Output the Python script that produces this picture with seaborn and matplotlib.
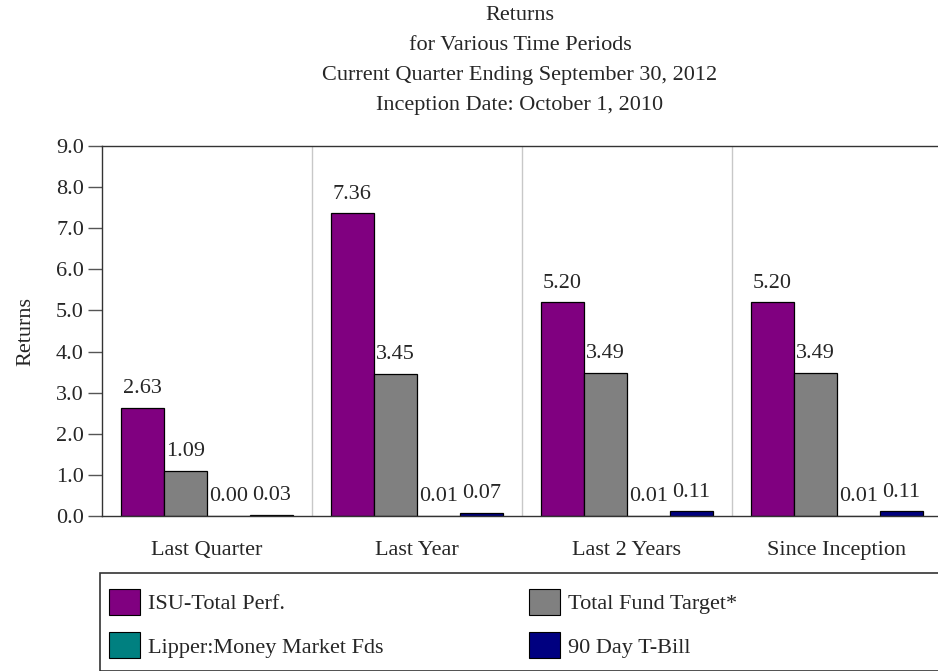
import matplotlib
matplotlib.use("Agg")
import matplotlib.pyplot as plt
from matplotlib.patches import Rectangle
import pandas as pd
import seaborn as sns

# data
periods = ["Last Quarter", "Last Year", "Last 2 Years", "Since Inception"]
series = ["ISU-Total Perf.", "Total Fund Target*", "Lipper:Money Market Fds", "90 Day T-Bill"]
isu_total = [2.63, 7.36, 5.20, 5.20]
fund_target = [1.09, 3.45, 3.49, 3.49]
lipper_mm = [0.00, 0.01, 0.01, 0.01]
tbill = [0.03, 0.07, 0.11, 0.11]
colors = ["#800080", "#808080", "#008080", "#000080"]

df = pd.DataFrame({
    "Period": periods * 4,
    "Series": [s for s in series for _ in periods],
    "Returns": isu_total + fund_target + lipper_mm + tbill,
})

sns.set_style("white")
plt.rcParams["font.family"] = ["Liberation Serif", "DejaVu Serif"]
plt.rcParams["font.size"] = 16

W, H = 938, 671
fig = plt.figure(figsize=(W / 100, H / 100), dpi=100)
ax = fig.add_axes([102 / W, 1 - 516 / H, 836 / W, 370 / H])

sns.barplot(data=df, x="Period", y="Returns", hue="Series", order=periods,
            hue_order=series, palette=colors, width=0.82, edgecolor="black",
            linewidth=0.9, saturation=1, ax=ax, legend=False)

for cont in ax.containers:
    ax.bar_label(cont, fmt="%.2f", padding=7, fontsize=16)

ax.set_ylim(0, 9)
ax.set_xlim(-0.5, 3.481)
ax.set_yticks(range(10))
ax.set_yticklabels([f"{v:.1f}" for v in range(10)])

# group separators
bounds = [0.5, 1.5, 2.5]
for b in bounds:
    ax.axvline(b, color="#c8c8c8", lw=1, zorder=0)
ax.set_xticks(bounds, minor=True)
ax.tick_params(axis="x", which="minor", length=12, width=1, color="black", direction="out")
ax.tick_params(axis="x", which="major", length=0, pad=18, labelsize=16)
ax.tick_params(axis="y", length=10, width=1, color="#555555", pad=3, labelsize=16, left=True)

ax.set_xlabel("")
ax.set_ylabel("Returns", fontsize=16)
ax.yaxis.set_label_coords(-0.08, 0.5)

for side in ["left", "bottom", "top"]:
    ax.spines[side].set_color("#333333")
    ax.spines[side].set_linewidth(1)
ax.spines["right"].set_visible(False)

fig.text(520 / W, 1 - 6 / H,
         "Returns\nfor Various Time Periods\nCurrent Quarter Ending September 30, 2012\nInception Date: October 1, 2010",
         ha="center", va="top", fontsize=16, linespacing=1.78)

# legend box below the chart
fig.patches.append(Rectangle((100 / W, 0), 1, 1 - 573 / H, transform=fig.transFigure,
                             fill=False, edgecolor="#333333", lw=1.2))
handles = [Rectangle((0, 0), 1, 1, facecolor=c, edgecolor="black", lw=0.8) for c in colors]
# matplotlib fills legend columns first, so reorder to read row by row
order = [0, 2, 1, 3]
fig.legend([handles[i] for i in order], [series[i] for i in order],
           loc="upper left", bbox_to_anchor=(100 / W, 1 - 580 / H),
           ncol=2, frameon=False, handlelength=1.4, handleheight=1.4,
           handletextpad=0.35, labelspacing=0.8, columnspacing=6.55, fontsize=16,
           borderaxespad=0)

fig.savefig("out.png", dpi=100)
